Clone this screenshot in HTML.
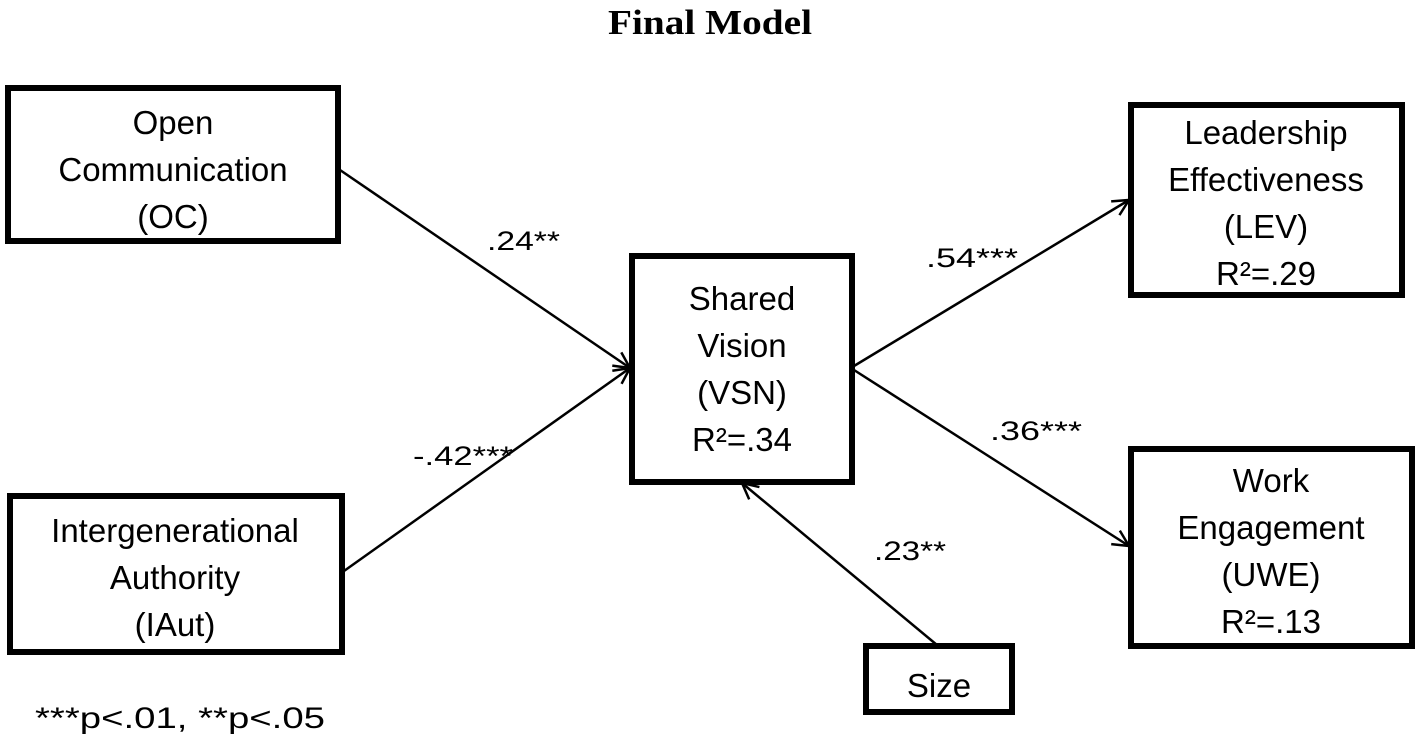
<!DOCTYPE html>
<html><head><style>
body{margin:0;width:1417px;height:740px;background:#fff;overflow:hidden}
</style></head><body>
<svg width="1417" height="740" viewBox="0 0 1417 740" xmlns="http://www.w3.org/2000/svg">
<defs>
<marker id="a" markerWidth="20" markerHeight="20" refX="18" refY="10" orient="auto" markerUnits="userSpaceOnUse">
<path d="M2,2 L18,10 L2,18" fill="none" stroke="#000" stroke-width="2.5"/>
</marker>
</defs>
<text x="710" y="34" font-family="Liberation Serif, serif" font-weight="bold" font-size="35" text-anchor="middle" textLength="204" lengthAdjust="spacingAndGlyphs">Final Model</text>
<g fill="none" stroke="#000" stroke-width="6">
<rect x="8" y="88" width="330" height="153"/>
<rect x="10" y="496" width="332" height="156"/>
<rect x="632" y="256" width="220" height="226"/>
<rect x="1131" y="105" width="271" height="190"/>
<rect x="1131" y="449" width="281" height="197"/>
<rect x="866" y="646" width="146" height="66"/>
</g>
<g stroke="#000" stroke-width="2.5" fill="none">
<line x1="340" y1="170" x2="630" y2="368" marker-end="url(#a)"/>
<line x1="344" y1="571" x2="630" y2="368" marker-end="url(#a)"/>
<line x1="854" y1="366" x2="1129" y2="200" marker-end="url(#a)"/>
<line x1="854" y1="370" x2="1129" y2="546" marker-end="url(#a)"/>
<line x1="937" y1="645" x2="742" y2="483" marker-end="url(#a)"/>
</g>
<g font-family="Liberation Sans, sans-serif" font-size="33" text-anchor="middle" fill="#000">
<text x="173" y="134">Open</text>
<text x="173" y="181">Communication</text>
<text x="173" y="228">(OC)</text>
<text x="175" y="542">Intergenerational</text>
<text x="175" y="589">Authority</text>
<text x="175" y="636">(IAut)</text>
<text x="742" y="310">Shared</text>
<text x="742" y="357">Vision</text>
<text x="742" y="404">(VSN)</text>
<text x="742" y="451">R²=.34</text>
<text x="1266" y="144">Leadership</text>
<text x="1266" y="191">Effectiveness</text>
<text x="1266" y="238">(LEV)</text>
<text x="1266" y="285">R²=.29</text>
<text x="1271" y="492">Work</text>
<text x="1271" y="539">Engagement</text>
<text x="1271" y="586">(UWE)</text>
<text x="1271" y="633">R²=.13</text>
<text x="939" y="697">Size</text>
</g>
<g font-family="Liberation Sans, sans-serif" font-size="27" fill="#000">
<text x="487" y="250" textLength="73" lengthAdjust="spacingAndGlyphs">.24**</text>
<text x="413" y="465" textLength="100" lengthAdjust="spacingAndGlyphs">-.42***</text>
<text x="926" y="267" textLength="92" lengthAdjust="spacingAndGlyphs">.54***</text>
<text x="990" y="440" textLength="92" lengthAdjust="spacingAndGlyphs">.36***</text>
<text x="874" y="560" textLength="72" lengthAdjust="spacingAndGlyphs">.23**</text>
<text x="35" y="728" font-size="30" textLength="290" lengthAdjust="spacingAndGlyphs">***p&lt;.01, **p&lt;.05</text>
</g>
</svg>
</body></html>
